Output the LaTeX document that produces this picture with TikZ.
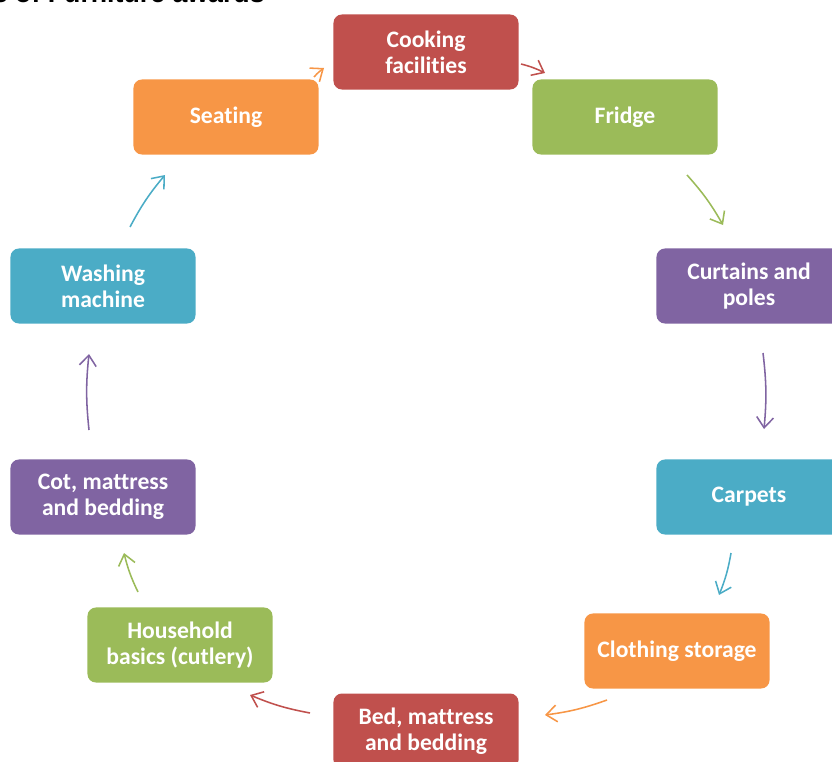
\documentclass[tikz,border=0pt]{standalone}
\usepackage{fontspec}
\setmainfont{Carlito}[RawFeature={-liga;-clig;-calt;-dlig}]
\newfontfamily\headfont{Liberation Sans}
\usepackage{tikz}
\usetikzlibrary{arrows.meta}
\definecolor{cycRed}{HTML}{C0504D}
\definecolor{cycGreen}{HTML}{9BBB59}
\definecolor{cycPurple}{HTML}{8064A2}
\definecolor{cycAqua}{HTML}{4BACC6}
\definecolor{cycOrange}{HTML}{F79646}
\tikzset{
  itembox/.style={rectangle, fill=#1, rounded corners=6pt,
                  minimum width=4.625cm, minimum height=1.875cm, inner sep=2pt,
                  align=center, text=white, font=\fontsize{16.8}{18.4}\selectfont\bfseries},
  cyclearrow/.style={draw=#1, line width=1.1pt, -{Straight Barb[length=7.5pt,width=12pt]}}
}

\begin{document}
\begin{tikzpicture}[x=0.025cm, y=-0.025cm]
          \clip (0,0) rectangle (832,761);
          \node[anchor=base west, font=\headfont\bfseries\fontsize{19}{22}\selectfont]
                (title) at (-12,3) {s of Furniture awards};
          % the ten boxes of the cycle
          \node[itembox=cycRed]    (cook)  at (426,52)  {Cooking\\facilities};
          \node[itembox=cycGreen]  (fridge) at (625,117) {Fridge};
          \node[itembox=cycPurple] (curt)  at (749,286) {Curtains and\\poles};
          \node[itembox=cycAqua]   (carp)  at (749,497) {Carpets};
          \node[itembox=cycOrange] (cloth) at (677,651) {Clothing storage};
          \node[itembox=cycRed]    (bed)   at (426,731) {Bed, mattress\\and bedding};
          \node[itembox=cycGreen]  (house) at (180,645) {Household\\basics (cutlery)};
          \node[itembox=cycPurple] (cot)   at (103,497) {Cot, mattress\\and bedding};
          \node[itembox=cycAqua]   (wash)  at (103,286) {Washing\\machine};
          \node[itembox=cycOrange] (seat)  at (226,117) {Seating};
          % arrow ends
          \coordinate (seat-out)   at (314,77);  \coordinate (cook-in)   at (324,68);
          \coordinate (cook-out)   at (521,64);  \coordinate (fridge-in) at (545,73);
          \coordinate (fridge-out) at (687,175); \coordinate (curt-in)   at (723,225);
          \coordinate (curt-out)   at (763,353); \coordinate (carp-in)   at (764,429);
          \coordinate (carp-out)   at (731,553); \coordinate (cloth-in)  at (719,595);
          \coordinate (cloth-out)  at (607,700); \coordinate (bed-in)    at (545,715);
          \coordinate (bed-out)    at (310,713); \coordinate (house-in)  at (250,695);
          \coordinate (house-out)  at (138,592); \coordinate (cot-in)    at (124,553);
          \coordinate (cot-out)    at (89,430);  \coordinate (wash-in)   at (89,354);
          \coordinate (wash-out)   at (130,227); \coordinate (seat-in)   at (165,175);
          \draw[cyclearrow=cycOrange] (seat-out)   to[bend left=6] (cook-in);
          \draw[cyclearrow=cycRed]    (cook-out)   to[bend left=6] (fridge-in);
          \draw[cyclearrow=cycGreen]  (fridge-out) to[bend left=6] (curt-in);
          \draw[cyclearrow=cycPurple] (curt-out)   to[bend left=6] (carp-in);
          \draw[cyclearrow=cycAqua]   (carp-out)   to[bend left=6] (cloth-in);
          \draw[cyclearrow=cycOrange] (cloth-out)  to[bend left=6] (bed-in);
          \draw[cyclearrow=cycRed]    (bed-out)    to[bend left=6] (house-in);
          \draw[cyclearrow=cycGreen]  (house-out)  to[bend left=6] (cot-in);
          \draw[cyclearrow=cycPurple] (cot-out)    to[bend left=6] (wash-in);
          \draw[cyclearrow=cycAqua]   (wash-out)   to[bend left=6] (seat-in);
        \end{tikzpicture}
\end{document}
